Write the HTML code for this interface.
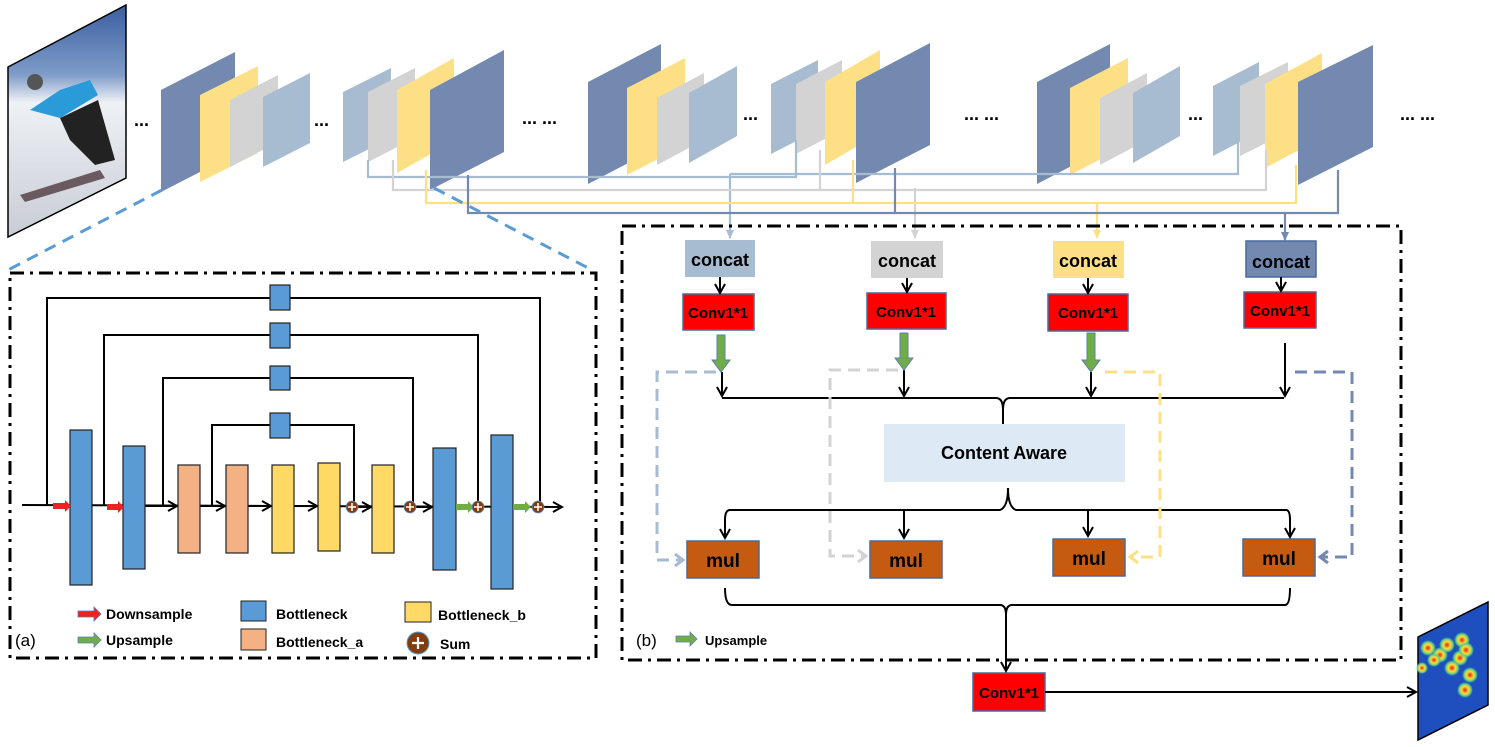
<!DOCTYPE html>
<html><head><meta charset="utf-8"><style>
html,body{margin:0;padding:0;background:#fff;}
svg{display:block;font-family:"Liberation Sans",Arial,sans-serif;}
</style></head><body>
<svg width="1495" height="747" viewBox="0 0 1495 747" xmlns="http://www.w3.org/2000/svg">
<defs>
<marker id="ab" markerWidth="12" markerHeight="12" refX="10" refY="6" orient="auto" markerUnits="userSpaceOnUse"><path d="M1,1 L10,6 L1,11" fill="none" stroke="#000" stroke-width="2"/></marker>
<marker id="alb" markerWidth="10" markerHeight="10" refX="8" refY="5" orient="auto" markerUnits="userSpaceOnUse"><path d="M0,1 L9,5 L0,9z" fill="#a7bcd0"/></marker>
<marker id="agr" markerWidth="10" markerHeight="10" refX="8" refY="5" orient="auto" markerUnits="userSpaceOnUse"><path d="M0,1 L9,5 L0,9z" fill="#d3d3d3"/></marker>
<marker id="aye" markerWidth="10" markerHeight="10" refX="8" refY="5" orient="auto" markerUnits="userSpaceOnUse"><path d="M0,1 L9,5 L0,9z" fill="#fde086"/></marker>
<marker id="adb" markerWidth="10" markerHeight="10" refX="8" refY="5" orient="auto" markerUnits="userSpaceOnUse"><path d="M0,1 L9,5 L0,9z" fill="#7489b0"/></marker>
<marker id="olb" markerWidth="14" markerHeight="14" refX="10" refY="7" orient="auto" markerUnits="userSpaceOnUse"><path d="M2,1 L10,7 L2,13" fill="none" stroke="#a7bcd0" stroke-width="3"/></marker>
<marker id="ogr" markerWidth="14" markerHeight="14" refX="10" refY="7" orient="auto" markerUnits="userSpaceOnUse"><path d="M2,1 L10,7 L2,13" fill="none" stroke="#d3d3d3" stroke-width="3"/></marker>
<marker id="oye" markerWidth="14" markerHeight="14" refX="10" refY="7" orient="auto" markerUnits="userSpaceOnUse"><path d="M2,1 L10,7 L2,13" fill="none" stroke="#fde086" stroke-width="3"/></marker>
<marker id="odb" markerWidth="14" markerHeight="14" refX="10" refY="7" orient="auto" markerUnits="userSpaceOnUse"><path d="M2,1 L10,7 L2,13" fill="none" stroke="#7489b0" stroke-width="3"/></marker>
<linearGradient id="ph" x1="0" y1="0" x2="0" y2="1"><stop offset="0" stop-color="#3a5ea0"/><stop offset="0.3" stop-color="#7f9cc8"/><stop offset="0.42" stop-color="#eef1f5"/><stop offset="1" stop-color="#c8ccd4"/></linearGradient>
<radialGradient id="hs"><stop offset="0" stop-color="#d22"/><stop offset="0.45" stop-color="#fd3"/><stop offset="0.75" stop-color="#6c8"/><stop offset="1" stop-color="#3c8" stop-opacity="0"/></radialGradient>
</defs>

<polygon points="8,67 126,5 126,178 8,237" fill="url(#ph)" stroke="#000" stroke-width="1.5"/>
<path d="M30,110 L60,90 L90,80 L98,95 L60,118 Z" fill="#2a9ad8"/>
<path d="M60,118 L98,100 L115,160 L95,165 L70,140Z" fill="#222"/>
<path d="M20,195 L100,170 L105,178 L25,202Z" fill="#6a5a60"/>
<circle cx="35" cy="82" r="8" fill="#555"/>
<text x="134" y="126" font-size="18" font-weight="bold">...</text>

<g>
<polygon points="161,90 235,52 235,154 161,192" fill="#7489b0"/>
<polygon points="200,95 258,66 258,153 200,182" fill="#fde086"/>
<polygon points="230,100 278,75 278,142 230,167" fill="#d3d3d3"/>
<polygon points="263,97 310,73 310,143 263,167" fill="#a7bcd0"/>
<text x="314" y="126" font-size="18" font-weight="bold">...</text>
<polygon points="343,92 391,68 391,138 343,162" fill="#a7bcd0"/>
<polygon points="368,92 415,68 415,138 368,162" fill="#d3d3d3"/>
<polygon points="397,90 454,58 454,141 397,173" fill="#fde086"/>
<polygon points="430,90 504,50 504,152 430,190" fill="#7489b0"/>
<text x="522" y="124" font-size="18" font-weight="bold">... ...</text>
<polygon points="588,82 661,44 661,146 588,184" fill="#7489b0"/>
<polygon points="627,88 685,58 685,145 627,175" fill="#fde086"/>
<polygon points="657,98 704,73 704,140 657,165" fill="#d3d3d3"/>
<polygon points="689,93 737,66 737,136 689,163" fill="#a7bcd0"/>
<text x="743" y="120" font-size="18" font-weight="bold">...</text>
<polygon points="771,84 818,60 818,130 771,154" fill="#a7bcd0"/>
<polygon points="796,84 842,60 842,130 796,154" fill="#d3d3d3"/>
<polygon points="825,82 880,50 880,133 825,165" fill="#fde086"/>
<polygon points="856,82 930,43 930,145 856,183" fill="#7489b0"/>
<text x="964" y="120" font-size="18" font-weight="bold">... ...</text>
<polygon points="1037,82 1110,44 1110,146 1037,184" fill="#7489b0"/>
<polygon points="1070,88 1128,58 1128,145 1070,175" fill="#fde086"/>
<polygon points="1100,98 1147,73 1147,140 1100,165" fill="#d3d3d3"/>
<polygon points="1133,93 1180,66 1180,136 1133,163" fill="#a7bcd0"/>
<text x="1188" y="120" font-size="18" font-weight="bold">...</text>
<polygon points="1213,86 1259,62 1259,132 1213,156" fill="#a7bcd0"/>
<polygon points="1240,86 1288,62 1288,132 1240,156" fill="#d3d3d3"/>
<polygon points="1265,84 1322,53 1322,138 1265,168" fill="#fde086"/>
<polygon points="1298,82 1373,45 1373,147 1298,185" fill="#7489b0"/>
<text x="1400" y="120" font-size="18" font-weight="bold">... ...</text>
</g>

<g fill="none" stroke-width="2.2">
<polyline points="368,160 368,177 796,177 796,140" stroke="#a7bcd0"/>
<polyline points="730,174 1238,174 1238,140" stroke="#a7bcd0"/>
<line x1="730" y1="174" x2="730" y2="238" stroke="#a7bcd0" marker-end="url(#alb)"/>
<polyline points="393,160 393,190 1266,190 1266,150" stroke="#d3d3d3"/>
<line x1="820" y1="190" x2="820" y2="150" stroke="#d3d3d3"/>
<polyline points="915,188 915,238" stroke="#d3d3d3" marker-end="url(#agr)"/>
<polyline points="426,170 426,203 1296,203 1296,165" stroke="#fde086"/>
<line x1="853" y1="203" x2="853" y2="160" stroke="#fde086"/>
<line x1="1097" y1="203" x2="1097" y2="238" stroke="#fde086" marker-end="url(#aye)"/>
<polyline points="468,175 468,213 1338,213 1338,170" stroke="#7489b0"/>
<line x1="895" y1="213" x2="895" y2="168" stroke="#7489b0"/>
<line x1="1285" y1="213" x2="1285" y2="240" stroke="#7489b0" marker-end="url(#adb)"/>
</g>

<line x1="162" y1="190" x2="8" y2="270" stroke="#5b9bd5" stroke-width="3" stroke-dasharray="12,8"/>
<line x1="434" y1="188" x2="592" y2="270" stroke="#5b9bd5" stroke-width="3" stroke-dasharray="12,8"/>

<rect x="10" y="273" width="586" height="385" fill="none" stroke="#000" stroke-width="3" stroke-dasharray="14,6,3,6"/>
<rect x="622" y="226" width="779" height="434" fill="none" stroke="#000" stroke-width="3" stroke-dasharray="14,6,3,6"/>

<g stroke="#000" stroke-width="2" fill="none">
<line x1="22" y1="505" x2="562" y2="507" marker-end="url(#ab)"/>
<polyline points="47,505 47,298 540,298 540,507"/>
<polyline points="104,506 104,335 478,335 478,507"/>
<polyline points="163,506 163,378 413,378 413,507"/>
<polyline points="212,506 212,425 354,425 354,507"/>
<line x1="145" y1="506" x2="177" y2="506" marker-end="url(#ab)"/>
<line x1="200" y1="506" x2="225" y2="506" marker-end="url(#ab)"/>
<line x1="248" y1="506" x2="271" y2="506" marker-end="url(#ab)"/>
<line x1="294" y1="506" x2="317" y2="506" marker-end="url(#ab)"/>
<line x1="358" y1="507" x2="371" y2="507" marker-end="url(#ab)"/>
<line x1="416" y1="507" x2="432" y2="507" marker-end="url(#ab)"/>
</g>
<g stroke="#222" stroke-width="1.2">
<rect x="270" y="285" width="20" height="25" fill="#5b9bd5"/>
<rect x="270" y="323" width="20" height="25" fill="#5b9bd5"/>
<rect x="270" y="366" width="20" height="24" fill="#5b9bd5"/>
<rect x="270" y="413" width="20" height="25" fill="#5b9bd5"/>
<rect x="70" y="430" width="22" height="155" fill="#5b9bd5"/>
<rect x="123" y="446" width="22" height="123" fill="#5b9bd5"/>
<rect x="178" y="465" width="22" height="88" fill="#f4b183"/>
<rect x="226" y="465" width="22" height="88" fill="#f4b183"/>
<rect x="272" y="465" width="22" height="88" fill="#ffd966"/>
<rect x="318" y="463" width="22" height="88" fill="#ffd966"/>
<rect x="372" y="465" width="22" height="88" fill="#ffd966"/>
<rect x="433" y="448" width="23" height="122" fill="#5b9bd5"/>
<rect x="491" y="435" width="22" height="154" fill="#5b9bd5"/>
</g>
<g>
<path d="M53,503 h12 v-3 l6,6 l-6,6 v-3 h-12z" fill="#e22"/>
<path d="M107,504 h11 v-3 l6,6 l-6,6 v-3 h-11z" fill="#e22"/>
<path d="M456,504 h12 v-3 l6,6 l-6,6 v-3 h-12z" fill="#70ad47"/>
<path d="M513,504 h12 v-3 l6,6 l-6,6 v-3 h-12z" fill="#70ad47"/>
</g>
<g fill="#843c0c" stroke="#5b9bd5" stroke-width="0.8">
<circle cx="352" cy="507" r="6"/><circle cx="410" cy="507" r="6"/><circle cx="478" cy="507" r="6"/><circle cx="538" cy="507" r="6"/>
</g>
<g stroke="#fff" stroke-width="1.5">
<path d="M348,507h8M352,503v8M406,507h8M410,503v8M474,507h8M478,503v8M534,507h8M538,503v8"/>
</g>
<path d="M78,611 h16 v-4 l7,7 l-7,7 v-4 h-16z" fill="#e22" stroke="#5b7fb0" stroke-width="0.8"/>
<path d="M78,637 h16 v-4 l7,7 l-7,7 v-4 h-16z" fill="#70ad47" stroke="#5b7fb0" stroke-width="0.8"/>
<text x="106" y="619" font-size="14" font-weight="bold">Downsample</text>
<text x="106" y="645" font-size="14" font-weight="bold">Upsample</text>
<rect x="241" y="601" width="25" height="20" fill="#5b9bd5" stroke="#222"/>
<rect x="241" y="629" width="25" height="21" fill="#f4b183" stroke="#222"/>
<text x="276" y="619" font-size="14" font-weight="bold">Bottleneck</text>
<text x="276" y="647" font-size="14" font-weight="bold">Bottleneck_a</text>
<rect x="405" y="602" width="26" height="20" fill="#ffd966" stroke="#222"/>
<text x="438" y="620" font-size="14" font-weight="bold">Bottleneck_b</text>
<circle cx="418" cy="643" r="11" fill="#843c0c" stroke="#5b9bd5"/>
<path d="M412,643h12M418,637v12" stroke="#fff" stroke-width="2.2"/>
<text x="440" y="649" font-size="14" font-weight="bold">Sum</text>
<text x="15" y="646" font-size="17">(a)</text>

<g font-weight="bold" text-anchor="middle">
<rect x="685" y="240" width="70" height="37" fill="#a7bcd0"/><text x="720" y="266" font-size="18">concat</text>
<rect x="871" y="241" width="72" height="37" fill="#d3d3d3"/><text x="907" y="267" font-size="18">concat</text>
<rect x="1053" y="241" width="71" height="37" fill="#fde086"/><text x="1088" y="267" font-size="18">concat</text>
<rect x="1246" y="241" width="70" height="36" fill="#7489b0" stroke="#4a6a9a" stroke-width="1.5"/><text x="1281" y="268" font-size="18">concat</text>
<g stroke="#4a6a9a" stroke-width="1.5" fill="#f00">
<rect x="683" y="294" width="71" height="36"/><rect x="867" y="293" width="79" height="36"/><rect x="1048" y="294" width="80" height="37"/><rect x="1244" y="292" width="72" height="36"/>
</g>
<text x="718" y="318" font-size="15">Conv1*1</text>
<text x="906" y="317" font-size="15">Conv1*1</text>
<text x="1088" y="318" font-size="15">Conv1*1</text>
<text x="1280" y="316" font-size="15">Conv1*1</text>
<rect x="884" y="424" width="241" height="58" fill="#dde9f5"/>
<text x="1004" y="459" font-size="18">Content Aware</text>
<g fill="#c55a11" stroke="#4a6a9a" stroke-width="1.5">
<rect x="687" y="541" width="72" height="37"/><rect x="870" y="541" width="72" height="37"/><rect x="1053" y="539" width="72" height="37"/><rect x="1243" y="539" width="72" height="37"/>
</g>
<text x="723" y="567" font-size="19">mul</text>
<text x="906" y="567" font-size="19">mul</text>
<text x="1089" y="565" font-size="19">mul</text>
<text x="1279" y="565" font-size="19">mul</text>
<rect x="973" y="673" width="72" height="38" fill="#f00" stroke="#4a6a9a" stroke-width="1.5"/>
<text x="1009" y="698" font-size="15">Conv1*1</text>
</g>
<g stroke="#000" stroke-width="2" fill="none">
<line x1="720" y1="277" x2="720" y2="293" marker-end="url(#ab)"/>
<line x1="907" y1="278" x2="907" y2="292" marker-end="url(#ab)"/>
<line x1="1088" y1="278" x2="1088" y2="293" marker-end="url(#ab)"/>
<line x1="1281" y1="277" x2="1281" y2="291" marker-end="url(#ab)"/>
<line x1="722" y1="372" x2="722" y2="396" marker-end="url(#ab)"/>
<line x1="904" y1="370" x2="904" y2="396" marker-end="url(#ab)"/>
<line x1="1091" y1="372" x2="1091" y2="396" marker-end="url(#ab)"/>
<line x1="1285" y1="343" x2="1285" y2="396" marker-end="url(#ab)"/>
<path d="M722,398 H996 Q1003,398 1003,410 Q1003,398 1010,398 H1284"/>
<line x1="1003" y1="406" x2="1003" y2="424"/>
<path d="M1008,488 Q1008,507 1000,510 H730 Q725,510 725,520 V538" marker-end="url(#ab)"/>
<path d="M1008,488 Q1008,507 1016,510 H1286 Q1290,510 1290,520 V537" marker-end="url(#ab)"/>
<line x1="904" y1="510" x2="904" y2="538" marker-end="url(#ab)"/>
<line x1="1088" y1="510" x2="1088" y2="536" marker-end="url(#ab)"/>
<path d="M725,588 Q725,605 732,605 H1000 Q1006,605 1006,615 Q1006,605 1012,605 H1285 Q1290,605 1290,588"/>
<line x1="1006" y1="612" x2="1006" y2="671" marker-end="url(#ab)"/>
<line x1="1045" y1="692" x2="1416" y2="692" marker-end="url(#ab)"/>
</g>
<g fill="#70ad47" stroke="#5b7fb0" stroke-width="1">
<path d="M717,335 h8 v25 h5 l-9,12 l-9,-12 h5z"/>
<path d="M900,333 h8 v25 h5 l-9,12 l-9,-12 h5z"/>
<path d="M1087,333 h8 v27 h5 l-9,12 l-9,-12 h5z"/>
</g>
<g fill="none" stroke-width="3" stroke-dasharray="12,7">
<polyline points="716,372 657,372 657,560 683,560" stroke="#a7bcd0" marker-end="url(#olb)"/>
<polyline points="898,370 830,370 830,556 866,556" stroke="#d3d3d3" marker-end="url(#ogr)"/>
<polyline points="1105,372 1160,372 1160,557 1130,557" stroke="#fde086" marker-end="url(#oye)"/>
<polyline points="1295,372 1352,372 1352,557 1320,557" stroke="#7489b0" marker-end="url(#odb)"/>
</g>
<text x="636" y="646" font-size="17">(b)</text>
<path d="M676,636 h14 v-4 l7,7 l-7,7 v-4 h-14z" fill="#70ad47" stroke="#5b7fb0" stroke-width="0.8"/>
<text x="705" y="645" font-size="13" font-weight="bold">Upsample</text>

<polygon points="1418,637 1488,602 1488,705 1418,740" fill="#1f4fbf" stroke="#000" stroke-width="1.5"/>
<g fill="url(#hs)">
<circle cx="1428" cy="648" r="8"/><circle cx="1440" cy="655" r="8"/><circle cx="1447" cy="645" r="8"/><circle cx="1462" cy="640" r="8"/>
<circle cx="1434" cy="660" r="7"/><circle cx="1460" cy="658" r="8"/><circle cx="1466" cy="650" r="8"/><circle cx="1422" cy="668" r="6"/>
<circle cx="1470" cy="675" r="8"/><circle cx="1465" cy="690" r="8"/><circle cx="1452" cy="668" r="8"/>
</g>
</svg>
</body></html>
